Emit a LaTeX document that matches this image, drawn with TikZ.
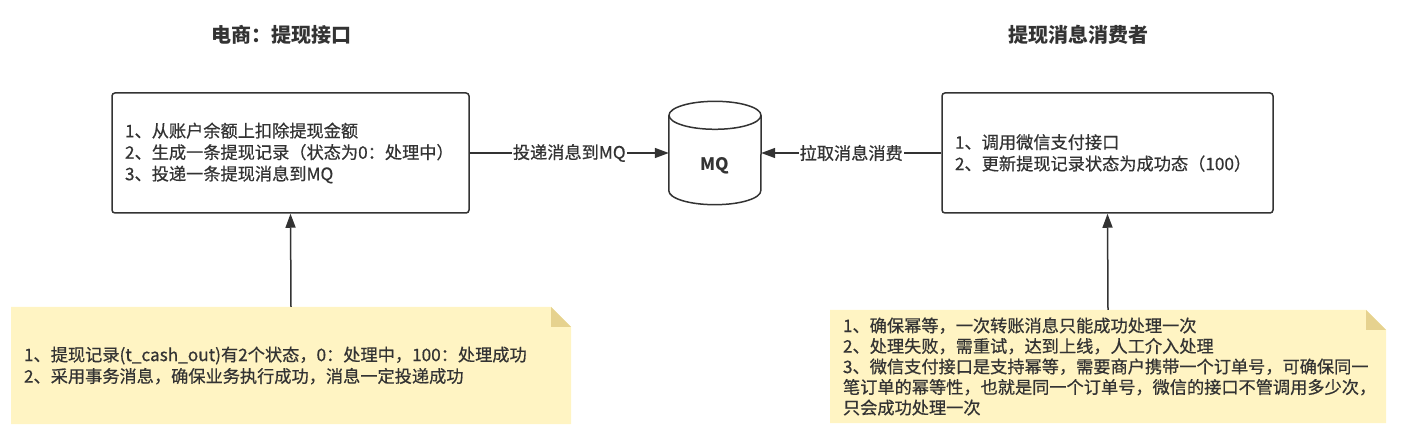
\documentclass[tikz,border=0pt]{standalone}
\usepackage{fontspec}
\setmainfont{Noto Sans CJK SC}
\newfontfamily\bodyfont{Noto Sans CJK SC}[FakeBold=0.6]
\usepackage{xcolor}
\usetikzlibrary{arrows.meta}
\definecolor{ink}{HTML}{333333}
\definecolor{notebg}{HTML}{FFF4C3}
\definecolor{notefold}{HTML}{E6D28F}

\begin{document}
\begin{tikzpicture}[x=1pt,y=-1pt,
  txt/.style={font=\bodyfont\fontsize{17.2}{21.5}\selectfont, text=ink},
  title/.style={font=\fontsize{20}{24}\selectfont\bfseries, text=ink},
  box/.style={txt, draw=ink, line width=1.5pt, rounded corners=3pt, align=left, inner xsep=13pt},
  note/.style={txt, align=left, inner xsep=13pt, path picture={
    \fill[notebg] (path picture bounding box.south west) -- (path picture bounding box.north west)
      -- ([xshift=-20pt]path picture bounding box.north east) -- ([yshift=-20pt]path picture bounding box.north east)
      -- (path picture bounding box.south east) -- cycle;
    \fill[notefold] ([xshift=-20pt]path picture bounding box.north east) -- ([xshift=-20pt,yshift=-20pt]path picture bounding box.north east)
      -- ([yshift=-20pt]path picture bounding box.north east) -- cycle;}},
  link/.style={draw=ink, line width=1.5pt, -{Triangle[length=14pt,width=10pt]}},
  tag/.style={txt, fill=white, inner sep=1pt}]

\useasboundingbox (0,0) rectangle (1401,438);

% titles
\node[title] (ltitle) at (281,35) {电商：提现接口};
\node[title] (rtitle) at (1078,35) {提现消息消费者};

% boxes
\node[box, text width=331pt, minimum height=120pt] (lbox) at (290.5,153)
  {1、从账户余额上扣除提现金额\\2、生成一条提现记录（状态为0：处理中）\\3、投递一条提现消息到MQ};
\node[box, text width=305pt, minimum height=120pt] (rbox) at (1107.5,153)
  {1、调用微信支付接口\\2、更新提现记录状态为成功态（100）};

% MQ
\node[minimum width=92pt, minimum height=103pt, inner sep=0pt] (mq) at (715,153) {};
\draw[ink, line width=1.5pt] ([yshift=-14pt]mq.north) ellipse [x radius=46pt, y radius=14pt];
\draw[ink, line width=1.5pt] ([yshift=-14pt]mq.north west) -- ([yshift=14pt]mq.south west)
  arc[start angle=180, end angle=360, x radius=46pt, y radius=14pt] -- ([yshift=-14pt]mq.north east);
\node[txt, font=\fontsize{17.2}{20}\selectfont\bfseries] (mqlabel) at ([yshift=-13pt]mq.center) {MQ};

\draw[link] (lbox.east) -- node[tag] {投递消息到MQ} (mq.west);
\draw[link] (rbox.west) -- node[tag] {拉取消息消费} (mq.east);

% notes
\node[note, text width=534pt, minimum height=117pt] (lnote) at (291,365.5)
  {1、提现记录(t\_cash\_out)有2个状态，0：处理中，100：处理成功\\2、采用事务消息，确保业务执行成功，消息一定投递成功};
\node[note, text width=530pt, minimum height=113pt, font=\bodyfont\fontsize{17.2}{20.5}\selectfont] (rnote) at (1108,366.5)
  {1、确保幂等，一次转账消息只能成功处理一次\\2、处理失败，需重试，达到上线，人工介入处理\\3、微信支付接口是支持幂等，需要商户携带一个订单号，可确保同一\\笔订单的幂等性，也就是同一个订单号，微信的接口不管调用多少次，\\只会成功处理一次};

\draw[link] (lnote.north) -- (lbox.south);
\draw[link] (rnote.north) -- (rbox.south);

\end{tikzpicture}
\end{document}
